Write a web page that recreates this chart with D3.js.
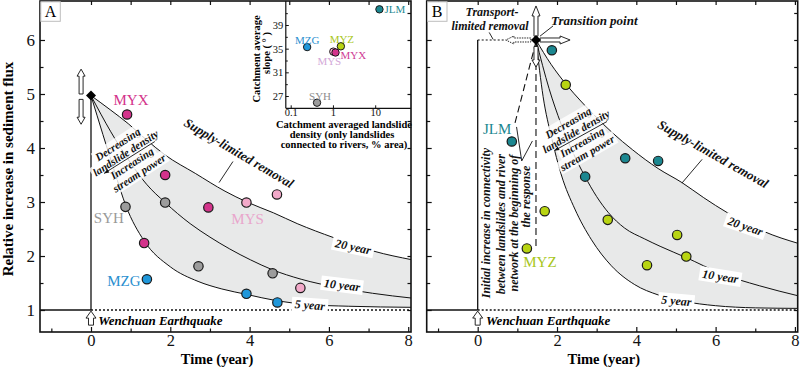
<!DOCTYPE html>
<html><head><meta charset="utf-8">
<script src="https://cdn.jsdelivr.net/npm/d3@7"></script>
<style>
body{margin:0;background:#fff;}
svg{display:block;}
text{font-family:"Liberation Serif","Times New Roman",serif;}
</style></head><body>
<svg id="c" width="800" height="367"></svg>
<script>
// ---------------- DATA ----------------
const xTickLabels = [0, 2, 4, 6, 8];
const xMinorTicks = [-1, 1, 3, 5, 7];
const yTickLabels = [1, 2, 3, 4, 5, 6];
const yMinorTicks = [1.5, 2.5, 3.5, 4.5, 5.5, 6.5];

// Panel A decay curves (time, relative flux)
const curveA5  = [[0,4.97],[0.3,4.25],[0.6,3.55],[0.88,2.93],[1.34,2.28],[2.0,1.8],[2.7,1.53],[3.3,1.39],[3.92,1.29],[4.7,1.17],[5.5,1.1],[6.5,1.07],[8.1,1.05]];
const curveA10 = [[0,4.97],[0.5,4.3],[1.0,3.72],[1.4,3.33],[1.87,2.99],[2.5,2.6],[3.0,2.35],[3.5,2.13],[4.02,1.93],[4.56,1.75],[5.3,1.57],[6.2,1.42],[7.1,1.31],[8.1,1.22]];
const curveA20 = [[0,4.97],[0.5,4.7],[0.94,4.45],[1.4,4.15],[1.87,3.87],[2.63,3.53],[3.38,3.2],[3.93,3.0],[4.6,2.8],[5.2,2.6],[6.12,2.34],[7.13,2.09],[8.1,1.93]];
// Panel B decay curves
const curveB5  = [[1.47,6.0],[1.65,4.95],[1.86,4.2],[2.11,3.5],[2.45,2.87],[2.87,2.3],[3.37,1.82],[3.96,1.47],[4.55,1.28],[5.2,1.16],[6.0,1.08],[7.0,1.04],[8.1,1.03]];
const curveB10 = [[1.47,6.0],[1.8,5.1],[2.1,4.45],[2.4,3.92],[2.7,3.48],[3.0,3.1],[3.3,2.8],[3.7,2.52],[4.2,2.32],[4.6,2.18],[5.26,1.97],[6.12,1.68],[7.1,1.45],[8.1,1.26]];
const curveB20 = [[1.47,6.0],[1.85,5.55],[2.24,5.17],[2.6,4.87],[2.95,4.6],[3.4,4.28],[3.9,3.97],[4.55,3.62],[5.15,3.36],[5.7,3.08],[6.3,2.8],[6.75,2.62],[7.2,2.46],[8.1,2.23]];

const peakA = [0, 4.97];
const peakB = [1.47, 6.0];

// Observed catchments (time, relative flux)
const ptsMYX = [[0.91,4.62],[1.87,3.5],[2.96,2.9],[1.34,2.24]];
const ptsMYS = [[3.92,2.99],[4.69,3.14],[5.28,1.41]];
const ptsSYH = [[0.87,2.91],[1.87,2.99],[2.71,1.81],[4.58,1.68]];
const ptsMZG = [[1.41,1.57],[3.92,1.30],[4.70,1.14]];
const ptsJLM = [[1.87,5.81],[0.86,4.12],[3.72,3.81],[4.55,3.76],[2.71,3.47]];
const ptsMYZ = [[2.22,5.17],[1.69,2.83],[1.24,2.14],[3.28,2.67],[5.03,2.39],[5.26,1.99],[4.27,1.83]];

// Inset: landslide density (% area) vs catchment slope (deg)
const insetSites   = ["JLM","MZG","MYZ","MYS","MYX","SYH"];
const insetDensity = [12.6, 0.245, 1.54, 1.02, 1.15, 0.42];
const insetSlope   = [41.65, 35.27, 35.4, 34.5, 34.35, 25.87];
const insetXTicks = [0.1, 1, 10];
const insetYTicks = [27, 31, 35, 39];
const insetYMinor = [29, 33, 37, 41];

const colors = {MYX:"#d3338b", MYS:"#f2a9c9", SYH:"#9c9c9c", MZG:"#1f97da", JLM:"#1b8790", MYZ:"#b8d412"};

// ---------------- SCALES ----------------
const svg = d3.select("#c");
const y = d3.scaleLinear().domain([0.593, 6.722]).range([332, 1]);
const xA = d3.scaleLinear().domain([-1.286, 8.07]).range([40, 411]);
const xB = d3.scaleLinear().domain([-1.286, 8.07]).range([426.7, 797.7]);
const serif = '"Liberation Serif","Times New Roman",serif';

function mkLine(x){ return d3.line().x(d=>x(d[0])).y(d=>y(d[1])).curve(d3.curveMonotoneX); }

function rotText(g, px, py, angle, str, o={}) {
  const size = o.size||11;
  const t = g.append("g").attr("transform", `translate(${px},${py}) rotate(${angle})`);
  const txt = t.append("text").attr("text-anchor", o.anchor||"middle").attr("dominant-baseline","central")
    .style("font-size", size+"px").style("font-weight", o.weight||"bold").style("font-style", o.style||"italic")
    .attr("fill", o.fill||"#111").text(str);
  if (o.bg) {
    const w = txt.node().getComputedTextLength();
    const px0 = (o.anchor==="start") ? 0 : -w/2;
    t.insert("rect","text").attr("x", px0-(o.padX||2)).attr("y", -size*0.6-(o.padY||0))
      .attr("width", w+2*(o.padX||2)).attr("height", size*1.2+2*(o.padY||0))
      .attr("fill","#fff").attr("opacity", o.bgOpacity==null?1:o.bgOpacity);
  }
  return t;
}

function blockArrow(g, x0,y0,x1,y1, o={}) {
  const sw=o.sw||2, hw=o.hw||4, hl=o.hl||7;
  const L=Math.hypot(x1-x0,y1-y0), ux=(x1-x0)/L, uy=(y1-y0)/L, nx=-uy, ny=ux;
  const kx=x1-ux*hl, ky=y1-uy*hl;
  const p=[[x0+nx*sw,y0+ny*sw],[kx+nx*sw,ky+ny*sw],[kx+nx*hw,ky+ny*hw],[x1,y1],[kx-nx*hw,ky-ny*hw],[kx-nx*sw,ky-ny*sw],[x0-nx*sw,y0-ny*sw]];
  g.append("path").attr("d","M"+p.map(q=>q.join(",")).join("L")+"Z")
    .attr("fill","#fff").attr("stroke","#111").attr("stroke-width",o.sw2||0.9)
    .attr("stroke-dasharray",o.dash||null);
}

function arrowLine(g, x0,y0,x1,y1) {
  g.append("line").attr("x1",x0).attr("y1",y0).attr("x2",x1).attr("y2",y1).attr("stroke","#111").attr("stroke-width",0.9);
  const L=Math.hypot(x1-x0,y1-y0), ux=(x1-x0)/L, uy=(y1-y0)/L, nx=-uy, ny=ux;
  const hl=5, hw=2;
  g.append("path").attr("d",`M${x1},${y1}L${x1-ux*hl+nx*hw},${y1-uy*hl+ny*hw}L${x1-ux*hl-nx*hw},${y1-uy*hl-ny*hw}Z`).attr("fill","#111");
}

function diamond(g, cx, cy, r) {
  g.append("path").attr("d",`M${cx},${cy-r}L${cx+r},${cy}L${cx},${cy+r}L${cx-r},${cy}Z`).attr("fill","#000");
}

function drawPoints(g, x, pts, color) {
  g.selectAll(null).data(pts).enter().append("circle")
    .attr("cx", d=>x(d[0])).attr("cy", d=>y(d[1])).attr("r", 4.7)
    .attr("fill", color).attr("stroke", "#1a1a1a").attr("stroke-width", 1.2);
}

function panel(x, c5, c10, c20) {
  const g = svg.append("g");
  const [x0, x1] = x.range();
  const line = mkLine(x);
  const id = "clip"+Math.round(x0);
  svg.append("clipPath").attr("id", id).append("rect").attr("x",x0).attr("y",1).attr("width",x1-x0).attr("height",331);
  const gc = g.append("g").attr("clip-path",`url(#${id})`);
  const rev = c5.slice().reverse();
  gc.append("path").attr("d", line(c20) + line(rev).replace(/^M/,"L") + "Z").attr("fill","#e8e9e9");
  gc.append("line").attr("x1",x0).attr("x2",x(0)).attr("y1",y(1)).attr("y2",y(1)).attr("stroke","#111").attr("stroke-width",1.3);
  gc.append("line").attr("x1",x(0)).attr("x2",x1).attr("y1",y(1)).attr("y2",y(1)).attr("stroke","#111").attr("stroke-width",1.3).attr("stroke-dasharray","2,2");
  [c5,c10,c20].forEach(c=>gc.append("path").attr("d",line(c)).attr("fill","none").attr("stroke","#111").attr("stroke-width",1));
  return {g, gc, line};
}

function axes(x, showYLabels) {
  const g = svg.append("g");
  const [x0, x1] = x.range();
  const fs = "16.5px";
  const ab = g.append("g").attr("transform","translate(0,332)")
    .call(d3.axisBottom(x).tickValues(xTickLabels).tickSizeInner(-5).tickSizeOuter(0).tickPadding(2.5));
  ab.selectAll("text").style("font-size",fs).style("font-family",serif).attr("fill","#111");
  g.append("g").attr("transform","translate(0,332)").call(d3.axisBottom(x).tickValues(xMinorTicks).tickSizeInner(-3.5).tickSizeOuter(0).tickFormat(""));
  g.append("g").attr("transform","translate(0,1)").call(d3.axisTop(x).tickValues(xTickLabels.concat(xMinorTicks)).tickSizeInner(-4).tickSizeOuter(0).tickFormat(""));
  const al = g.append("g").attr("transform",`translate(${x0},0)`)
    .call(d3.axisLeft(y).tickValues(yTickLabels).tickSizeInner(-5).tickSizeOuter(0).tickPadding(5).tickFormat(showYLabels?d3.format("d"):""));
  al.selectAll("text").style("font-size","17px").style("font-family",serif).attr("fill","#111");
  g.append("g").attr("transform",`translate(${x0},0)`).call(d3.axisLeft(y).tickValues(yMinorTicks).tickSizeInner(-3.5).tickSizeOuter(0).tickFormat(""));
  g.append("g").attr("transform",`translate(${x1},0)`).call(d3.axisRight(y).tickValues(yTickLabels.concat(yMinorTicks)).tickSizeInner(-3.5).tickSizeOuter(0).tickFormat(""));
  g.selectAll(".domain").remove();
  g.selectAll(".tick line").attr("stroke","#111").attr("stroke-width",1.2);
  g.append("rect").attr("x",x0).attr("y",1).attr("width",x1-x0).attr("height",331).attr("fill","none").attr("stroke","#111").attr("stroke-width",1.6);
  g.append("text").attr("x",x(3.18)).attr("y",364).attr("text-anchor","middle")
    .style("font-size","14.5px").style("font-weight","bold").text("Time (year)");
}

function panelLabel(x, s) {
  const x0 = x.range()[0];
  svg.append("rect").attr("x",x0+0.8).attr("y",1.8).attr("width",19.5).attr("height",19.5).attr("fill","#fff").attr("stroke","#bdbdbd").attr("stroke-width",1);
  svg.append("text").attr("x",x0+10.5).attr("y",17).attr("text-anchor","middle").style("font-size","16px").text(s);
}

// ================= PANEL A =================
const A = panel(xA, curveA5, curveA10, curveA20);
{
  const g = A.g, x = xA;
  g.append("line").attr("x1",x(0)).attr("x2",x(0)).attr("y1",y(1)).attr("y2",y(peakA[1])).attr("stroke","#111").attr("stroke-width",1.3);
  rotText(g, x(0.67), y(4.07), -33, "Decreasing", {bg:true, bgOpacity:0.8});
  rotText(g, x(0.87), y(3.91), -33, "landslide density", {bg:true, bgOpacity:0.8});
  rotText(g, x(1.03), y(3.72), -33, "Increasing", {bg:true, bgOpacity:0.8});
  rotText(g, x(1.21), y(3.54), -33, "stream power", {bg:true, bgOpacity:0.8});
  arrowLine(g, x(1.61), y(4.12), x(0.33), y(3.53));
  rotText(g, x(3.73), y(3.91), 30.5, "Supply-limited removal", {size:13});
  g.append("line").attr("x1",x(3.58)).attr("y1",y(3.75)).attr("x2",x(3.23)).attr("y2",y(3.36)).attr("stroke","#111").attr("stroke-width",0.9);
  rotText(g, x(6.61), y(2.17), 12, "20 year", {size:12, bg:true, padX:3});
  rotText(g, x(6.33), y(1.46), 7, "10 year", {size:12, bg:true, padX:3});
  rotText(g, x(5.52), y(1.09), 4, "5 year", {size:12, bg:true, padX:3});
  drawPoints(g, x, ptsMYX, colors.MYX);
  drawPoints(g, x, ptsMYS, colors.MYS);
  drawPoints(g, x, ptsSYH, colors.SYH);
  drawPoints(g, x, ptsMZG, colors.MZG);
  const lab = (t,v,s,c)=>g.append("text").attr("x",x(t)).attr("y",y(v)).attr("text-anchor","middle").attr("dominant-baseline","central").style("font-size","15px").attr("fill",c).text(s);
  lab(1.01,4.89,"MYX",colors.MYX);
  lab(0.45,2.70,"SYH","#999");
  lab(3.95,2.69,"MYS","#e9a6cc");
  lab(0.83,1.54,"MZG","#2a8fcf");
  diamond(g, x(peakA[0]), y(peakA[1]), 5);
  blockArrow(g, x(-0.25), y(5.0), x(-0.25), y(5.46), {sw:2, hw:4, hl:7});
  blockArrow(g, x(-0.25), y(4.90), x(-0.25), y(4.44), {sw:2, hw:4, hl:7});
  blockArrow(g, x(0), y(0.72), x(0), y(0.98), {sw:2.5, hw:5, hl:7});
  g.append("text").attr("x",x(0.18)).attr("y",y(0.815)).attr("dominant-baseline","central").style("font-size","13px").style("font-weight","bold").style("font-style","italic").text("Wenchuan Earthquake");
}

// Inset
{
  const g = svg.append("g");
  const xI = d3.scaleLog().domain([0.1,10]).range([290.7,375.2]);
  const yI = d3.scaleLinear().domain([27,39]).range([96,25]);
  const left = 285.8, bottom = 108.3;
  g.append("rect").attr("x",left).attr("y",1).attr("width",411-left).attr("height",bottom-1).attr("fill","#fff");
  g.append("line").attr("x1",left).attr("x2",left).attr("y1",1).attr("y2",bottom).attr("stroke","#111").attr("stroke-width",1.2);
  g.append("line").attr("x1",left).attr("x2",411).attr("y1",bottom).attr("y2",bottom).attr("stroke","#111").attr("stroke-width",1.2);
  g.append("g").attr("transform",`translate(0,${bottom})`).call(d3.axisBottom(xI).tickValues(insetXTicks).tickSizeInner(-3).tickSizeOuter(0).tickPadding(0.5).tickFormat(d3.format("")));
  g.append("g").attr("transform",`translate(${left},0)`).call(d3.axisLeft(yI).tickValues(insetYTicks).tickSizeInner(-3).tickSizeOuter(0).tickPadding(2.5));
  g.append("g").attr("transform",`translate(${left},0)`).call(d3.axisLeft(yI).tickValues(insetYMinor).tickSizeInner(-2).tickSizeOuter(0).tickFormat(""));
  g.selectAll(".domain").remove();
  g.selectAll(".tick line").attr("stroke","#111");
  g.selectAll(".tick text").style("font-size","10.5px").style("font-family",serif).attr("fill","#111");
  const tx = (s,xx,yy)=>g.append("text").attr("x",xx).attr("y",yy).attr("text-anchor","middle").attr("dominant-baseline","central").style("font-size","10.5px").style("font-weight","bold").text(s);
  tx("Catchment averaged landslide",344,124.5);
  tx("density (only landslides",342,134.5);
  tx("connected to rivers, % area)",344,144.5);
  [["Catchment average",256.5,59],["slope ( \u00b0 )",266,53]].forEach(([s,xx,yy])=>{
    g.append("text").attr("transform",`translate(${xx},${yy}) rotate(-90)`).attr("text-anchor","middle").attr("dominant-baseline","central").style("font-size","10.5px").style("font-weight","bold").text(s);
  });
  const pts = insetSites.map((s,i)=>({s, d:insetDensity[i], v:insetSlope[i]}));
  g.selectAll(null).data(pts).enter().append("circle").attr("cx",d=>xI(d.d)).attr("cy",d=>yI(d.v)).attr("r",3.7)
    .attr("fill",d=>colors[d.s]).attr("stroke","#1a1a1a").attr("stroke-width",1);
  const off = {JLM:[5,0,"start"], MZG:[0,-7.5,"middle"], MYZ:[1,-7.5,"middle"], MYS:[-4,9,"middle"], MYX:[5,2.5,"start"], SYH:[3,-7,"middle"]};
  const lc = {JLM:"#1b8790", MZG:"#2a8fcf", MYZ:"#a8c61a", MYS:"#d3a8d8", MYX:"#cf3b94", SYH:"#8d8d8d"};
  pts.forEach(d=>{
    const o = off[d.s];
    g.append("text").attr("x",xI(d.d)+o[0]).attr("y",yI(d.v)+o[1]).attr("text-anchor",o[2]).attr("dominant-baseline","central")
      .style("font-size","11px").attr("fill",lc[d.s]).text(d.s);
  });
}

// ================= PANEL B =================
const B = panel(xB, curveB5, curveB10, curveB20);
{
  const g = B.g, x = xB;
  g.append("line").attr("x1",x(0)).attr("x2",x(0)).attr("y1",y(1)).attr("y2",y(6)).attr("stroke","#111").attr("stroke-width",1.3);
  g.append("line").attr("x1",x(0)).attr("x2",x(0.72)).attr("y1",y(6)).attr("y2",y(6)).attr("stroke","#111").attr("stroke-width",1.2).attr("stroke-dasharray","2,2");
  g.append("line").attr("x1",x(peakB[0])).attr("x2",x(peakB[0])).attr("y1",y(5.98)).attr("y2",y(2.13)).attr("stroke","#111").attr("stroke-width",1.1).attr("stroke-dasharray","7,4");
  g.append("line").attr("x1",x(peakB[0])).attr("x2",x(0.94)).attr("y1",y(5.97)).attr("y2",y(4.46)).attr("stroke","#111").attr("stroke-width",1.1).attr("stroke-dasharray","7,4");
  rotText(g, x(2.28), y(4.47), -30, "Decreasing", {bg:true, bgOpacity:0.8});
  rotText(g, x(2.48), y(4.31), -30, "landslide density", {bg:true, bgOpacity:0.8});
  rotText(g, x(2.63), y(4.11), -30, "Increasing", {bg:true, bgOpacity:0.8});
  rotText(g, x(2.76), y(3.91), -30, "stream power", {bg:true, bgOpacity:0.8});
  arrowLine(g, x(3.26), y(4.49), x(1.93), y(3.95));
  rotText(g, x(5.94), y(3.89), 29.5, "Supply-limited removal", {size:13});
  g.append("line").attr("x1",x(5.66)).attr("y1",y(3.79)).attr("x2",x(5.15)).attr("y2",y(3.35)).attr("stroke","#111").attr("stroke-width",0.9);
  rotText(g, x(6.75), y(2.55), 19, "20 year", {size:12, bg:true, padX:3});
  rotText(g, x(6.12), y(1.62), 9, "10 year", {size:12, bg:true, padX:3});
  rotText(g, x(5.01), y(1.17), 5, "5 year", {size:12, bg:true, padX:3});
  [["Initial increase in connectivity",0.21,2.61],["between landslides and river",0.59,2.59],["network at the beginning of",0.92,2.61],["the response",1.22,3.10]]
    .forEach(([s,t,v])=>rotText(g, x(t), y(v), -90, s, {size:12}));
  g.append("line").attr("x1",x(1.11)).attr("y1",y(3.76)).attr("x2",x(0.98)).attr("y2",y(4.39)).attr("stroke","#111").attr("stroke-width",0.9);
  g.append("line").attr("x1",x(1.11)).attr("y1",y(3.76)).attr("x2",x(1.38)).attr("y2",y(4.13)).attr("stroke","#111").attr("stroke-width",0.9);
  drawPoints(g, x, ptsJLM, colors.JLM);
  drawPoints(g, x, ptsMYZ, colors.MYZ);
  const lab = (t,v,s,c)=>g.append("text").attr("x",x(t)).attr("y",y(v)).attr("text-anchor","middle").attr("dominant-baseline","central").style("font-size","15px").attr("fill",c).text(s);
  lab(0.49,4.36,"JLM","#1b8790");
  lab(1.57,1.88,"MYZ","#a8c61a");
  rotText(g, x(0.36), y(6.51), 0, "Transport-", {size:12});
  rotText(g, x(0.31), y(6.25), 0, "limited removal", {size:12});
  g.append("line").attr("x1",x(0.29)).attr("y1",y(6.14)).attr("x2",x(0.39)).attr("y2",y(6.01)).attr("stroke","#111").attr("stroke-width",0.9);
  rotText(g, x(2.94), y(6.37), 0, "Transition point", {size:13});
  g.append("line").attr("x1",x(1.9)).attr("y1",y(6.26)).attr("x2",x(1.57)).attr("y2",y(6.07)).attr("stroke","#111").attr("stroke-width",0.9);
  blockArrow(g, x(1.47), y(5.88), x(1.47), y(5.5), {sw:2, hw:4, hl:7});
  blockArrow(g, x(1.34), y(6.0), x(0.71), y(6.0), {sw:2, hw:4, hl:8, dash:"1.5,1"});
  blockArrow(g, x(1.57), y(6.0), x(2.33), y(6.0), {sw:2, hw:4, hl:10});
  blockArrow(g, x(1.47), y(6.07), x(1.47), y(6.63), {sw:2, hw:4, hl:10});
  diamond(g, x(peakB[0]), y(peakB[1]), 5);
  blockArrow(g, x(0), y(0.72), x(0), y(0.98), {sw:2.5, hw:5, hl:7});
  g.append("text").attr("x",x(0.21)).attr("y",y(0.815)).attr("dominant-baseline","central").style("font-size","13px").style("font-weight","bold").style("font-style","italic").text("Wenchuan Earthquake");
}

axes(xA, true);
axes(xB, false);
panelLabel(xA, "A");
panelLabel(xB, "B");

svg.append("text").attr("transform","translate(13,169) rotate(-90)").attr("text-anchor","middle")
  .style("font-size","15px").style("font-weight","bold").text("Relative increase in sediment flux");
</script>
</body></html>
